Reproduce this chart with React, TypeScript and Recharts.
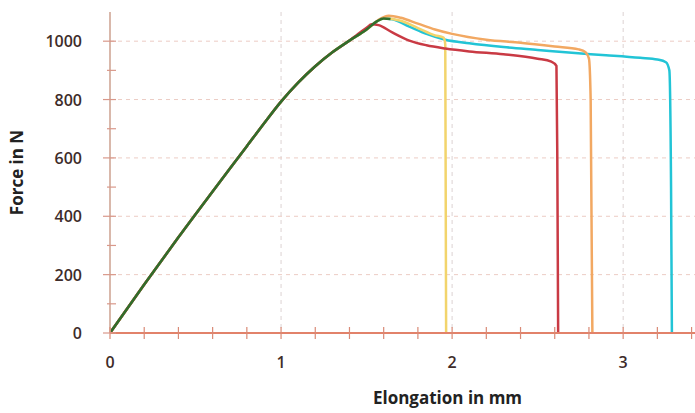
import { LineChart, Line, XAxis, YAxis, CartesianGrid } from 'recharts';

// axis ticks (minor + labelled)
const xTicks = [0, 0.2, 0.4, 0.6, 0.8, 1, 1.2, 1.4, 1.6, 1.8, 2, 2.2, 2.4, 2.6, 2.8, 3, 3.2, 3.4];
const xLabels = [0, 1, 2, 3];
const yTicks = [0, 100, 200, 300, 400, 500, 600, 700, 800, 900, 1000];
const yLabels = [0, 200, 400, 600, 800, 1000];

// shared elastic part of all specimens
const riseElong = [0, 0.2, 0.4, 0.6, 0.8, 0.9, 1.0, 1.1, 1.2, 1.3, 1.4];
const riseForce = [0, 166, 328, 485, 640, 718, 793, 858, 914, 962, 1002];

const redElong = [1.45, 1.5, 1.53, 1.57, 1.65, 1.75, 1.85, 1.96, 2.1, 2.3, 2.5, 2.58, 2.61, 2.615, 2.62];
const redForce = [1025, 1046, 1058, 1055, 1030, 1002, 986, 975, 965, 955, 940, 930, 915, 600, 0];

const yellowElong = [1.5, 1.6, 1.7, 1.8, 1.9, 1.95, 1.96, 1.965];
const yellowForce = [1040, 1078, 1070, 1045, 1020, 1012, 990, 0];

const orangeElong = [1.5, 1.57, 1.63, 1.7, 1.8, 1.9, 2.0, 2.2, 2.4, 2.6, 2.74, 2.78, 2.8, 2.81, 2.82];
const orangeForce = [1040, 1073, 1087, 1080, 1060, 1040, 1025, 1005, 995, 982, 972, 962, 940, 800, 0];

const cyanElong = [1.5, 1.56, 1.6, 1.65, 1.75, 1.85, 1.96, 2.1, 2.3, 2.5, 2.7, 2.9, 3.1, 3.2, 3.25, 3.27, 3.28, 3.285];
const cyanForce = [1040, 1068, 1078, 1075, 1050, 1025, 1005, 993, 980, 970, 960, 952, 943, 937, 928, 900, 500, 0];

const greenElong = [1.5, 1.56, 1.6, 1.64];
const greenForce = [1040, 1068, 1078, 1076];

const toPoints = (xs: number[], ys: number[]) => xs.map((x, i) => ({ x, y: ys[i] }));
const rise = toPoints(riseElong, riseForce);

const series = [
    { name: 'cyan', color: '#22c4d6', data: [...rise, ...toPoints(cyanElong, cyanForce)] },
    { name: 'yellow', color: '#f2d46c', data: [...rise, ...toPoints(yellowElong, yellowForce)] },
    { name: 'orange', color: '#f2a862', data: [...rise, ...toPoints(orangeElong, orangeForce)] },
    { name: 'red', color: '#c93a44', data: [...rise, ...toPoints(redElong, redForce)] },
    { name: 'green', color: '#2f6e2c', data: [...rise, ...toPoints(greenElong, greenForce)] },
];

const tickFont = { fontFamily: '"Open Sans", sans-serif', fontSize: 16, fontWeight: 600, fill: '#3e2c2a' };

function XTick({ x, y, payload }: any) {
    const major = xLabels.includes(payload.value);
    return (
        <g>
            <line x1={x} x2={x} y1={y - 6} y2={y + 6} stroke="#d98a76" strokeWidth={1.2} />
            {major && (
                <text x={x} y={y + 35} textAnchor="middle" {...tickFont}>{payload.value}</text>
            )}
        </g>
    );
}

function YTick({ x, y, payload }: any) {
    const major = yLabels.includes(payload.value);
    return (
        <g>
            <line x1={major ? x - 7 : x - 3} x2={x + 6} y1={y} y2={y} stroke="#d9988a" strokeWidth={1.2} />
            {major && (
                <text x={x - 28} y={y + 6} textAnchor="end" {...tickFont}>{payload.value}</text>
            )}
        </g>
    );
}

export default function App() {
    return (
        <div style={{ width: 695, height: 413, background: '#fff' }}>
            <style>{`body{margin:0}`}</style>
            <LineChart width={695} height={413} margin={{ top: 12, right: 0, left: 0, bottom: 0 }}>
                <CartesianGrid horizontal={false} verticalValues={[1, 2, 3]} stroke="#dcd2d2" strokeDasharray="4 4" />
                <CartesianGrid vertical={false} horizontalValues={[200, 400, 600, 800, 1000]} stroke="#ecccc4" strokeDasharray="4 4" />
                <XAxis
                    type="number"
                    dataKey="x"
                    domain={[0, 3.42]}
                    ticks={xTicks}
                    interval={0}
                    allowDataOverflow
                    height={80}
                    tickSize={0}
                    tickMargin={0}
                    tick={<XTick />}
                    axisLine={{ stroke: '#e2826a', strokeWidth: 2 }}
                    label={{
                        value: 'Elongation in mm', position: 'insideBottom', offset: 9, dx: 45,
                        style: { fontFamily: '"Open Sans", sans-serif', fontSize: 17, fontWeight: 700, fill: '#222' },
                    }}
                />
                <YAxis
                    type="number"
                    domain={[0, 1100]}
                    ticks={yTicks}
                    interval={0}
                    width={110}
                    tickSize={0}
                    tickMargin={0}
                    tick={<YTick />}
                    axisLine={{ stroke: '#cda08f', strokeWidth: 1.5 }}
                    label={{
                        value: 'Force in N', angle: -90, position: 'insideLeft', offset: 17,
                        style: { textAnchor: 'middle', fontFamily: '"Open Sans", sans-serif', fontSize: 17, fontWeight: 700, fill: '#222' },
                    }}
                />
                {series.map(s => (
                    <Line
                        key={s.name}
                        data={s.data}
                        dataKey="y"
                        type="monotone"
                        stroke={s.color}
                        strokeWidth={2.5}
                        dot={false}
                        isAnimationActive={false}
                    />
                ))}
            </LineChart>
        </div>
    );
}
